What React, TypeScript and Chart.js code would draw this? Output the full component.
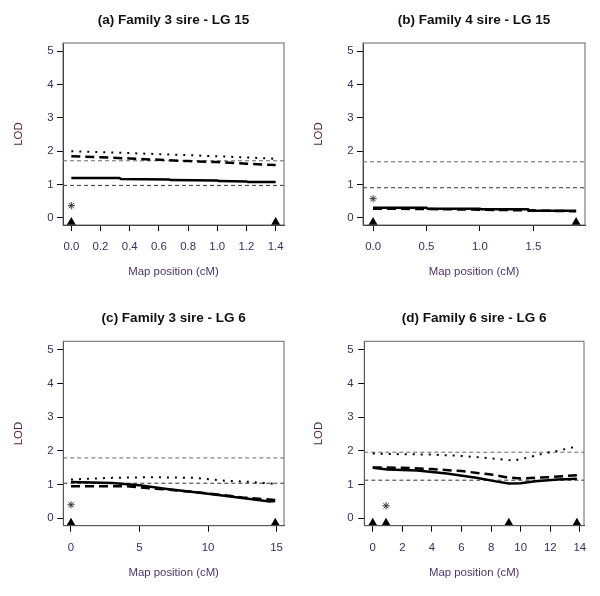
import React, { useEffect, useRef } from 'react';
import { Chart, registerables } from 'chart.js';

Chart.register(...registerables);

// ---------- Data ----------
const yTicks = [0, 1, 2, 3, 4, 5];
const yLabels = ['0', '1', '2', '3', '4', '5'];

// (a) Family 3 sire - LG 15
const titleA = '(a) Family 3 sire - LG 15';
const xTicksA = [0, 0.2, 0.4, 0.6, 0.8, 1.0, 1.2, 1.4];
const xLabelsA = ['0.0', '0.2', '0.4', '0.6', '0.8', '1.0', '1.2', '1.4'];
const solidAx = [0, 0.33, 0.34, 0.67, 0.68, 1.0, 1.01, 1.2, 1.21, 1.4];
const solidAy = [1.19, 1.19, 1.16, 1.15, 1.13, 1.12, 1.1, 1.09, 1.07, 1.07];
const dashedAx = [0, 0.4, 0.8, 1.0, 1.2, 1.4];
const dashedAy = [1.85, 1.78, 1.7, 1.67, 1.62, 1.58];
const dottedAx = [0, 0.4, 0.8, 1.2, 1.4];
const dottedAy = [2.0, 1.94, 1.88, 1.81, 1.77];
const thresholdsA = [1.71, 0.97];
const markersA = [0, 1.4];
const starA = [0, 0.36];

// (b) Family 4 sire - LG 15
const titleB = '(b) Family 4 sire - LG 15';
const xTicksB = [0, 0.5, 1.0, 1.5];
const xLabelsB = ['0.0', '0.5', '1.0', '1.5'];
const solidBx = [0, 0.5, 0.51, 1.0, 1.01, 1.45, 1.46, 1.9];
const solidBy = [0.3, 0.3, 0.27, 0.27, 0.25, 0.25, 0.21, 0.21];
const dashedBx = [0, 0.5, 1.0, 1.45, 1.9];
const dashedBy = [0.27, 0.26, 0.24, 0.22, 0.19];
const dottedBx: number[] = [];
const dottedBy: number[] = [];
const thresholdsB = [1.68, 0.9];
const markersB = [0, 1.9];
const starB = [0, 0.57];

// (c) Family 3 sire - LG 6
const titleC = '(c) Family 3 sire - LG 6';
const xTicksC = [0, 5, 10, 15];
const xLabelsC = ['0', '5', '10', '15'];
const solidCx = [0, 3, 5, 7, 10, 12.5, 14.5, 14.9];
const solidCy = [1.08, 1.05, 0.98, 0.87, 0.73, 0.6, 0.5, 0.51];
const dashedCx = [0, 4, 5.5, 7, 10, 12.5, 14.9];
const dashedCy = [0.95, 0.95, 0.9, 0.85, 0.74, 0.62, 0.54];
const dottedCx = [0, 3, 6, 9, 11, 13, 14.9];
const dottedCy = [1.15, 1.2, 1.22, 1.2, 1.12, 1.08, 1.02];
const thresholdsC = [1.79, 1.04];
const markersC = [0, 14.9];
const starC = [0, 0.4];

// (d) Family 6 sire - LG 6
const titleD = '(d) Family 6 sire - LG 6';
const xTicksD = [0, 2, 4, 6, 8, 10, 12, 14];
const xLabelsD = ['0', '2', '4', '6', '8', '10', '12', '14'];
const solidDx = [0, 1, 3, 5, 7, 8.5, 9.2, 10, 11, 12.5, 13.8];
const solidDy = [1.5, 1.45, 1.42, 1.33, 1.2, 1.08, 1.03, 1.04, 1.1, 1.15, 1.17];
const dashedDx = [0, 2, 4, 6, 8, 9, 10, 12, 13.8];
const dashedDy = [1.51, 1.5, 1.46, 1.4, 1.3, 1.22, 1.18, 1.22, 1.28];
const dottedDx = [0, 2, 4, 6, 8, 9.5, 10.5, 11.5, 12.5, 13.8];
const dottedDy = [1.92, 1.9, 1.89, 1.85, 1.78, 1.71, 1.8, 1.92, 2.0, 2.13];
const thresholdsD = [1.96, 1.13];
const markersD = [0, 0.9, 9.2, 13.8];
const starD = [0.9, 0.37];

// ---------- Styling / layout ----------
const W = 300;
const H = 298;
const FONT = "'Liberation Sans', Arial, sans-serif";
const TICK_COLOR = '#3d2c5e';
const XTITLE_COLOR = '#4a3568';
const YTITLE_COLOR = '#55203f';
const Y_MIN = -0.22;
const Y_MAX = 5.25;
const MARKER_Y = -0.14;

type Panel = {
  title: string;
  xMin: number;
  xMax: number;
  xTicks: number[];
  xLabels: string[];
  solid: [number[], number[]];
  dashed: [number[], number[]];
  dotted: [number[], number[]];
  thresholds: number[];
  markers: number[];
  star: number[];
  box: { left: number; right: number; top: number; bottom: number };
};

const panels: Panel[] = [
  {
    title: titleA, xMin: -0.057, xMax: 1.457, xTicks: xTicksA, xLabels: xLabelsA,
    solid: [solidAx, solidAy], dashed: [dashedAx, dashedAy], dotted: [dottedAx, dottedAy],
    thresholds: thresholdsA, markers: markersA, star: starA,
    box: { left: 63, right: 284, top: 43, bottom: 225 },
  },
  {
    title: titleB, xMin: -0.094, xMax: 1.983, xTicks: xTicksB, xLabels: xLabelsB,
    solid: [solidBx, solidBy], dashed: [dashedBx, dashedBy], dotted: [dottedBx, dottedBy],
    thresholds: thresholdsB, markers: markersB, star: starB,
    box: { left: 63, right: 285, top: 43, bottom: 225 },
  },
  {
    title: titleC, xMin: -0.56, xMax: 15.54, xTicks: xTicksC, xLabels: xLabelsC,
    solid: [solidCx, solidCy], dashed: [dashedCx, dashedCy], dotted: [dottedCx, dottedCy],
    thresholds: thresholdsC, markers: markersC, star: starC,
    box: { left: 63.3, right: 284, top: 43.3, bottom: 227.7 },
  },
  {
    title: titleD, xMin: -0.57, xMax: 14.28, xTicks: xTicksD, xLabels: xLabelsD,
    solid: [solidDx, solidDy], dashed: [dashedDx, dashedDy], dotted: [dottedDx, dottedDy],
    thresholds: thresholdsD, markers: markersD, star: starD,
    box: { left: 64.3, right: 284, top: 43.3, bottom: 227.7 },
  },
];

const boxPlugin = {
  id: 'rbox',
  afterDatasetsDraw(chart: any) {
    const { ctx, chartArea } = chart;
    ctx.save();
    ctx.strokeStyle = '#666';
    ctx.lineWidth = 1;
    ctx.setLineDash([]);
    ctx.strokeRect(chartArea.left, chartArea.top, chartArea.right - chartArea.left, chartArea.bottom - chartArea.top);
    ctx.restore();
  },
};

function pts(xs: number[], ys: number[]) {
  return xs.map((x, i) => ({ x, y: ys[i] }));
}

function makeConfig(p: Panel): any {
  const labelSize = 11.4;
  const lh = labelSize * 1.2;
  const titleSize = 13.5;
  const titleTopPad = 12;
  const datasets: any[] = [];
  const lineBase = { showLine: true, pointRadius: 0, borderColor: '#000', tension: 0, fill: false, borderCapStyle: 'butt' };
  datasets.push({ ...lineBase, data: pts(p.solid[0], p.solid[1]), borderWidth: 2.5, borderDash: [] });
  datasets.push({ ...lineBase, data: pts(p.dashed[0], p.dashed[1]), borderWidth: 2.5, borderDash: [9, 5] });
  if (p.dotted[0].length) {
    datasets.push({ ...lineBase, data: pts(p.dotted[0], p.dotted[1]), borderWidth: 2, borderDash: [2, 6] });
  }
  p.thresholds.forEach((t, i) => {
    datasets.push({
      ...lineBase,
      data: [{ x: p.xMin, y: t }, { x: p.xMax, y: t }],
      borderColor: i === 0 ? '#666' : '#333',
      borderWidth: 1,
      borderDash: [4, 3],
    });
  });
  datasets.push({
    data: p.markers.map((x) => ({ x, y: MARKER_Y })),
    showLine: false,
    pointStyle: 'triangle',
    pointRadius: 5.3,
    backgroundColor: '#000',
    borderColor: '#000',
    borderWidth: 0,
    clip: false,
  });
  datasets.push({
    data: [{ x: p.star[0], y: p.star[1] }],
    showLine: false,
    pointStyle: 'star',
    pointRadius: 3.6,
    backgroundColor: '#333',
    borderColor: '#333',
    borderWidth: 1,
  });

  return {
    type: 'scatter',
    data: { datasets },
    plugins: [boxPlugin],
    options: {
      animation: false,
      responsive: false,
      events: [],
      layout: { padding: { left: 0, right: W - p.box.right, top: 0, bottom: 0 } },
      plugins: {
        legend: { display: false },
        tooltip: { enabled: false },
        title: {
          display: true,
          text: p.title,
          fullSize: false,
          color: '#111',
          font: { family: FONT, size: titleSize, weight: 'bold', lineHeight: 1.2 },
          padding: { top: titleTopPad, bottom: p.box.top - titleTopPad - titleSize * 1.2 },
        },
      },
      scales: {
        x: {
          type: 'linear',
          min: p.xMin,
          max: p.xMax,
          afterBuildTicks: (s: any) => {
            s.ticks = p.xTicks.map((v) => ({ value: v }));
          },
          afterFit: (s: any) => {
            s.height = H - p.box.bottom;
          },
          ticks: {
            autoSkip: false,
            maxRotation: 0,
            padding: 22 - 6 - lh / 2,
            color: TICK_COLOR,
            font: { family: FONT, size: labelSize },
            callback: (v: number) => {
              const i = p.xTicks.findIndex((t) => Math.abs(t - v) < 1e-9);
              return i >= 0 ? p.xLabels[i] : '';
            },
          },
          grid: { drawOnChartArea: false, drawTicks: true, tickLength: 6, color: '#000' },
          border: { display: true, color: '#222', width: 1 },
          title: {
            display: true,
            text: 'Map position (cM)',
            color: XTITLE_COLOR,
            font: { family: FONT, size: labelSize, lineHeight: 1.2 },
            padding: { top: 0, bottom: H - p.box.bottom - 47.3 - lh / 2 },
          },
        },
        y: {
          type: 'linear',
          min: Y_MIN,
          max: Y_MAX,
          afterBuildTicks: (s: any) => {
            s.ticks = yTicks.map((v) => ({ value: v }));
          },
          afterFit: (s: any) => {
            s.width = p.box.left;
          },
          ticks: {
            autoSkip: false,
            padding: p.box.left - 6 - 53.5,
            color: TICK_COLOR,
            font: { family: FONT, size: labelSize },
            callback: (v: number) => {
              const i = yTicks.findIndex((t) => Math.abs(t - v) < 1e-9);
              return i >= 0 ? yLabels[i] : '';
            },
          },
          grid: { drawOnChartArea: false, drawTicks: true, tickLength: 6, color: '#000' },
          border: { display: true, color: '#222', width: 1 },
          title: {
            display: true,
            text: 'LOD',
            color: YTITLE_COLOR,
            font: { family: FONT, size: labelSize, lineHeight: 1.2 },
            padding: { top: 19 - lh / 2, bottom: 0 },
          },
        },
      },
    },
  };
}

function PanelChart({ panel }: { panel: Panel }) {
  const ref = useRef<HTMLCanvasElement | null>(null);
  useEffect(() => {
    if (!ref.current) return;
    const chart = new Chart(ref.current, makeConfig(panel));
    return () => chart.destroy();
  }, [panel]);
  return <canvas ref={ref} width={W} height={H} style={{ width: W, height: H, display: 'block' }} />;
}

export default function App() {
  return (
    <div
      style={{
        position: 'absolute',
        left: 0,
        top: 0,
        width: 600,
        height: 596,
        background: '#fff',
        display: 'grid',
        gridTemplateColumns: '300px 300px',
        gridTemplateRows: '298px 298px',
      }}
    >
      {panels.map((p) => (
        <PanelChart key={p.title} panel={p} />
      ))}
    </div>
  );
}
